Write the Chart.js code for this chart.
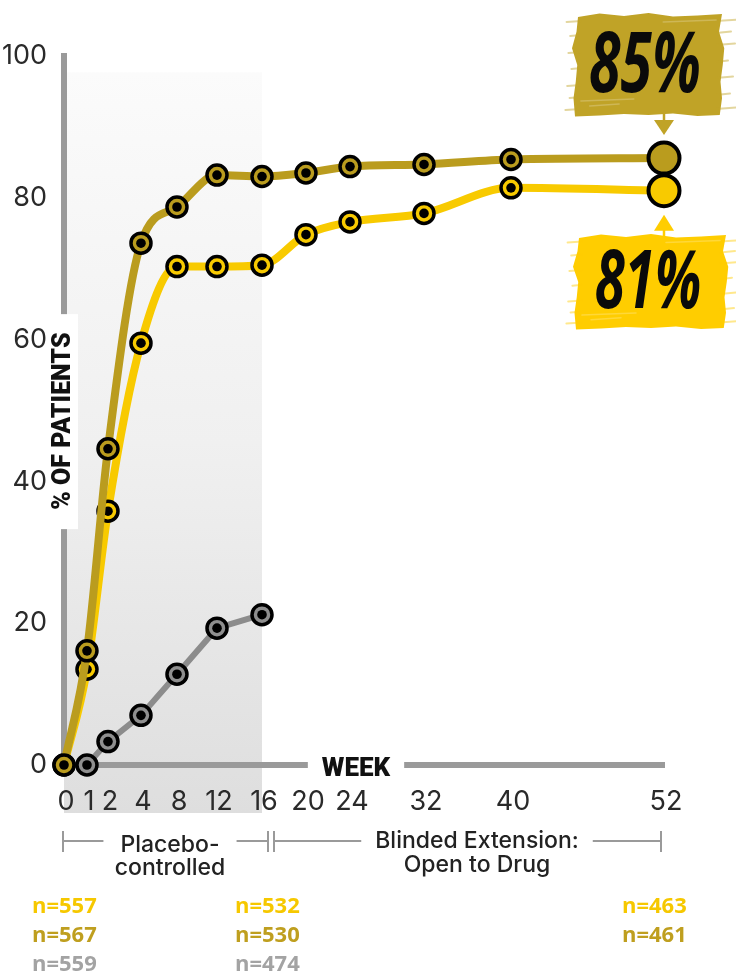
<!DOCTYPE html>
<html><head><meta charset="utf-8">
<script src="https://cdn.jsdelivr.net/npm/chart.js@4/dist/chart.umd.min.js"></script>
<style>html,body{margin:0;padding:0;background:#fff;}#wrap{position:relative;width:736px;height:976px;}</style>
</head><body><div id="wrap"><canvas id="c"></canvas></div>
<script>
// ---------- data ----------
const weeks = [0, 1, 2, 4, 8, 12, 16, 20, 24, 32, 40, 52];
const goldValues   = [0, 16.1, 44.6, 73.6, 78.7, 83.2, 83.0, 83.5, 84.4, 84.7, 85.4, 85.6];
const yellowValues = [0, 13.5, 35.8, 59.5, 70.3, 70.3, 70.5, 74.8, 76.6, 77.8, 81.4, 81.0];
const grayValues   = [null, 0, 3.3, 7.0, 12.8, 19.3, 21.2];
const xTickWeeks = [0, 1, 2, 4, 8, 12, 16, 20, 24, 32, 40, 52];
const yTickValues = [0, 20, 40, 60, 80, 100];
const finalLabels = ['85%', '81%'];
const yellowN = ['n=557', 'n=532', 'n=463'];
const goldN   = ['n=567', 'n=530', 'n=461'];
const grayN   = ['n=559', 'n=474'];
const phaseLabels = [['Placebo-', 'controlled'], ['Blinded Extension:', 'Open to Drug']];
const axisTitleY = '% OF PATIENTS';
const axisTitleX = 'WEEK';

// ---------- style ----------
const GOLD = '#BA9C1E', YELLOW = '#F8CA00', GRAY = '#8C8C8C', AXIS = '#9a9a9a', INK = '#222';
// piecewise position of the week axis (fraction of axis length)
const axisBreakWeeks = [0, 1, 2, 4, 8, 12, 16, 20, 24, 32, 40, 52];
const axisBreakFrac  = [0, 0.0383, 0.0733, 0.1283, 0.1883, 0.255, 0.33, 0.4033, 0.4767, 0.6, 0.745, 1];

function interp(xs, ys, v) {
  if (v <= xs[0]) return ys[0] + (v - xs[0]) * (ys[1] - ys[0]) / (xs[1] - xs[0]);
  for (let i = 1; i < xs.length; i++) {
    if (v <= xs[i]) return ys[i-1] + (v - xs[i-1]) * (ys[i] - ys[i-1]) / (xs[i] - xs[i-1]);
  }
  const n = xs.length - 1;
  return ys[n] + (v - xs[n]) * (ys[n] - ys[n-1]) / (xs[n] - xs[n-1]);
}

class WeekScale extends Chart.LinearScale {
  buildTicks() { return xTickWeeks.map(v => ({ value: v })); }
  getPixelForValue(v) { return this.getPixelForDecimal(interp(axisBreakWeeks, axisBreakFrac, v)); }
  getValueForPixel(p) { return interp(axisBreakFrac, axisBreakWeeks, this.getDecimalForPixel(p)); }
}
WeekScale.id = 'week';
WeekScale.defaults = Chart.LinearScale.defaults;
Chart.register(WeekScale);

const lastIdx = weeks.length - 1;
function series(vals, color, width) {
  return {
    data: vals.map((v, i) => ({ x: weeks[i], y: v })),
    borderColor: color,
    backgroundColor: color,
    borderWidth: width,
    pointBackgroundColor: color,
    pointBorderColor: '#000',
    pointBorderWidth: c => c.dataIndex === lastIdx ? 4 : 3.5,
    pointRadius: c => c.dataIndex === lastIdx ? 15.5 : 10,
    pointHoverRadius: c => c.dataIndex === lastIdx ? 15.5 : 10,
    cubicInterpolationMode: 'monotone',
    clip: false,
    fill: false
  };
}
const grayDs = series(grayValues, GRAY, 6);
grayDs.cubicInterpolationMode = 'default';
grayDs.tension = 0;
grayDs.pointBackgroundColor = '#8f8f8f';

function drawBrush(ctx, x, y, w, h, color) {
  const wob = [0, -1.5, 1, -2, 1.5, 0.5, -1];
  ctx.save();
  ctx.fillStyle = color;
  ctx.beginPath();
  ctx.moveTo(x + 3, y + 2);
  for (let i = 1; i <= 6; i++) ctx.lineTo(x + w * i / 6, y + wob[i]);
  for (let i = 1; i <= 6; i++) ctx.lineTo(x + w + wob[(i + 2) % 7] * 1.5, y + h * i / 6);
  for (let i = 5; i >= 0; i--) ctx.lineTo(x + w * i / 6, y + h + wob[(i + 4) % 7]);
  for (let i = 5; i >= 1; i--) ctx.lineTo(x + wob[(i + 1) % 7] * 1.5, y + h * i / 6);
  ctx.closePath();
  ctx.fill();
  // dry-brush streaks along the ends
  ctx.globalAlpha = 0.45;
  ctx.lineWidth = 2;
  ctx.lineCap = 'round';
  ctx.strokeStyle = color;
  const streaks = [[0.06, 16], [0.18, 9], [0.3, 13], [0.47, 6], [0.63, 11], [0.8, 8], [0.94, 14]];
  streaks.forEach(([f, len]) => {
    ctx.beginPath(); ctx.moveTo(x + w - 6, y + h * f); ctx.lineTo(x + w + len, y + h * f - 1.5); ctx.stroke();
    ctx.beginPath(); ctx.moveTo(x + 6, y + h * (1 - f)); ctx.lineTo(x - len * 0.6, y + h * (1 - f) + 1); ctx.stroke();
  });
  ctx.globalAlpha = 0.22;
  ctx.strokeStyle = '#fff';
  ctx.lineWidth = 1.5;
  [[0.86, 0.04, 0.4], [0.91, 0.1, 0.3], [0.07, 0.6, 0.96]].forEach(([f, a, b]) => {
    ctx.beginPath(); ctx.moveTo(x + w * a, y + h * f); ctx.lineTo(x + w * b, y + h * f - 2); ctx.stroke();
  });
  ctx.restore();
}

const decor = {
  id: 'decor',
  beforeDraw(chart) {
    const { ctx, scales: { x, y } } = chart;
    const x0 = x.getPixelForValue(0), x16 = x.getPixelForValue(16);
    const top = y.getPixelForValue(97.7), bottom = y.bottom + 48;
    const g = ctx.createLinearGradient(0, top, 0, bottom);
    g.addColorStop(0, '#fbfbfb');
    g.addColorStop(0.5, '#f0f0f0');
    g.addColorStop(1, '#dedede');
    ctx.save();
    ctx.fillStyle = g;
    ctx.fillRect(x0, top, x16 - x0, bottom - top);
    ctx.restore();
  },
  beforeDatasetsDraw(chart) {
    const { ctx, scales: { x, y } } = chart;
    ctx.save();
    // y axis title
    const ty = y.getPixelForValue(48.5);
    ctx.fillStyle = '#fff';
    ctx.fillRect(52, ty - 107, 26, 215);
    ctx.translate(63, ty);
    ctx.rotate(-Math.PI / 2);
    ctx.fillStyle = '#111';
    ctx.font = '900 25px Roboto';
    ctx.textAlign = 'center';
    ctx.textBaseline = 'middle';
    ctx.fillText(axisTitleY, 0, 1);
    ctx.restore();
    // x axis title
    ctx.save();
    const wx = 356, wy = y.bottom + 3;
    ctx.font = '900 26px Roboto';
    const ww = ctx.measureText(axisTitleX).width;
    ctx.fillStyle = '#fff';
    ctx.fillRect(wx - ww / 2 - 14, wy - 16, ww + 28, 30);
    ctx.fillStyle = '#111';
    ctx.textAlign = 'center';
    ctx.textBaseline = 'middle';
    ctx.fillText(axisTitleX, wx, wy + 1);
    ctx.restore();
  },
  afterDatasetDraw(chart, args) {
    const ctx = chart.ctx;
    ctx.save();
    ctx.fillStyle = '#000';
    args.meta.data.forEach(el => {
      if (el.skip || el.options.radius > 12) return;
      ctx.beginPath();
      ctx.arc(el.x, el.y, 4.8, 0, Math.PI * 2);
      ctx.fill();
    });
    ctx.restore();
  },
  afterDraw(chart) {
    const { ctx, scales: { x, y } } = chart;
    const x52 = x.getPixelForValue(52);
    const gy = y.getPixelForValue(goldValues[lastIdx]);
    const yy = y.getPixelForValue(yellowValues[lastIdx]);
    // brush labels
    drawBrush(ctx, 575, 15, 147, 100, '#C0A327');
    drawBrush(ctx, 576, 236, 150, 92, '#FFCD00');
    ctx.save();
    // arrows
    ctx.fillStyle = '#C0A327'; ctx.strokeStyle = '#C0A327'; ctx.lineWidth = 2.5;
    ctx.beginPath(); ctx.moveTo(x52, 112); ctx.lineTo(x52, gy - 30); ctx.stroke();
    ctx.beginPath(); ctx.moveTo(x52 - 10, gy - 38); ctx.lineTo(x52 + 10, gy - 38); ctx.lineTo(x52, gy - 23); ctx.closePath(); ctx.fill();
    ctx.fillStyle = '#FFCD00'; ctx.strokeStyle = '#FFCD00';
    ctx.beginPath(); ctx.moveTo(x52, yy + 30); ctx.lineTo(x52, 240); ctx.stroke();
    ctx.beginPath(); ctx.moveTo(x52 - 10, yy + 40); ctx.lineTo(x52 + 10, yy + 40); ctx.lineTo(x52, yy + 24); ctx.closePath(); ctx.fill();
    ctx.restore();
    // big numbers
    ctx.save();
    ctx.fillStyle = '#0a0a0a';
    ctx.textAlign = 'center';
    ctx.textBaseline = 'alphabetic';
    ctx.font = 'italic 700 84px "Open Sans"';
    ctx.translate(645, 92); ctx.scale(0.68, 1); ctx.fillText(finalLabels[0], 0, 0);
    ctx.restore();
    ctx.save();
    ctx.fillStyle = '#0a0a0a';
    ctx.textAlign = 'center';
    ctx.textBaseline = 'alphabetic';
    ctx.font = 'italic 700 80px "Open Sans"';
    ctx.translate(648, 308); ctx.scale(0.68, 1); ctx.fillText(finalLabels[1], 0, 0);
    ctx.restore();

    // phase brackets
    ctx.save();
    const by = 841;
    const bx0 = x.getPixelForValue(0) - 1, bx1 = x.getPixelForValue(16) + 6, bx2 = bx1 + 6, bx3 = x52 - 3;
    ctx.font = '500 23px Inter';
    ctx.fillStyle = INK;
    ctx.textAlign = 'center';
    ctx.textBaseline = 'middle';
    const c1 = 170, c2 = 477;
    const w1 = ctx.measureText(phaseLabels[0][0]).width;
    const w2 = ctx.measureText(phaseLabels[1][0]).width;
    ctx.fillText(phaseLabels[0][0], c1, 845);
    ctx.fillText(phaseLabels[0][1], c1, 868);
    ctx.fillText(phaseLabels[1][0], c2, 841);
    ctx.fillText(phaseLabels[1][1], c2, 865);
    ctx.strokeStyle = AXIS; ctx.lineWidth = 2;
    ctx.beginPath();
    ctx.moveTo(bx0, by); ctx.lineTo(c1 - w1 / 2 - 17, by);
    ctx.moveTo(c1 + w1 / 2 + 17, by); ctx.lineTo(bx1, by);
    ctx.moveTo(bx2, by); ctx.lineTo(c2 - w2 / 2 - 14, by);
    ctx.moveTo(c2 + w2 / 2 + 14, by); ctx.lineTo(bx3, by);
    [bx0, bx1, bx2, bx3].forEach(px => { ctx.moveTo(px, by - 10); ctx.lineTo(px, by + 11); });
    ctx.stroke();
    ctx.restore();

    // sample sizes
    ctx.save();
    ctx.font = '700 22px "Open Sans"';
    ctx.textAlign = 'left';
    ctx.textBaseline = 'middle';
    const cols = [32, 235, 622];
    const rows = [[yellowN, '#F6C800', 907], [goldN, '#BF9F1F', 936], [grayN, '#A3A3A3', 965]];
    rows.forEach(([arr, col, ry]) => {
      ctx.fillStyle = col;
      arr.forEach((t, i) => ctx.fillText(t, cols[i], ry));
    });
    ctx.restore();
  }
};

new Chart(document.getElementById('c'), {
  type: 'line',
  data: {
    datasets: [grayDs, series(goldValues, GOLD, 8), series(yellowValues, YELLOW, 8)]
  },
  options: {
    responsive: true,
    maintainAspectRatio: false,
    animation: false,
    events: [],
    layout: { padding: { top: 56, right: 72, bottom: 0, left: 0 } },
    plugins: { legend: { display: false }, tooltip: { enabled: false } },
    scales: {
      x: {
        type: 'week', min: 0, max: 52,
        afterFit: s => { s.height = 211; },
        ticks: { autoSkip: false, maxRotation: 0, minRotation: 0, padding: 21, labelOffset: 2, color: '#2a2a2a',
                 font: { family: 'Inter', size: 27, weight: '400' } },
        grid: { display: true, drawOnChartArea: false, drawTicks: false, color: 'rgba(0,0,0,0)' },
        border: { display: true, color: AXIS, width: 6 }
      },
      y: {
        type: 'linear', min: 0, max: 100,
        afterFit: s => { s.width = 64; },
        afterBuildTicks: s => { s.ticks = yTickValues.map(v => ({ value: v })); },
        ticks: { padding: 17, color: '#2a2a2a', font: { family: 'Inter', size: 27, weight: '400' } },
        grid: { display: true, drawOnChartArea: false, drawTicks: false, color: 'rgba(0,0,0,0)' },
        border: { display: true, color: AXIS, width: 6 }
      }
    }
  },
  plugins: [decor]
});
</script></body></html>
